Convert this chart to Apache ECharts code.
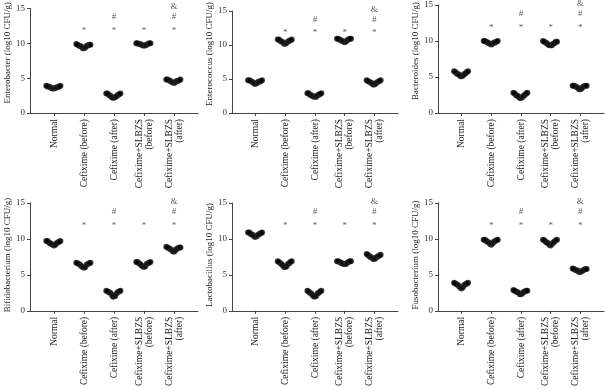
<!DOCTYPE html>
<html>
<head>
<meta charset="utf-8">
<script src="https://cdn.jsdelivr.net/npm/echarts@6/dist/echarts.min.js"></script>
<style>
  html, body { margin: 0; padding: 0; background: #fff; }
  #main { width: 605px; height: 389px; }
</style>
</head>
<body>
<div id="main"></div>
<script>
// group labels (x axis)
var groups = ['Normal', 'Cefixime (before)', 'Cefixime (after)', 'Cefixime+SLBZS\n(before)', 'Cefixime+SLBZS\n(after)'];
var yTicks = [0, 5, 10, 15];

// log10 CFU/g per animal, one list per group
var enterobacter = [
    [3.9, 3.8, 3.7, 3.6, 3.8, 3.5, 3.7, 3.9, 3.6, 3.5, 3.8, 3.7],
    [9.9, 9.7, 9.5, 9.8, 9.3, 9.6, 9.8, 9.4, 9.7, 9.3, 9.8, 9.6],
    [2.8, 2.6, 2.3, 2.8, 2.2, 2.5, 2.7, 2.2, 2.4, 2.8, 2.6, 2.3],
    [10.0, 9.9, 9.8, 10.0, 9.7, 9.9, 10.0, 9.7, 9.9, 10.0, 9.7, 9.8],
    [4.8, 4.6, 4.5, 4.8, 4.4, 4.6, 4.8, 4.4, 4.7, 4.7, 4.3, 4.6]
];
var enterococcus = [
    [4.8, 4.7, 4.5, 4.8, 4.3, 4.6, 4.8, 4.4, 4.6, 4.7, 4.3, 4.6],
    [10.8, 10.6, 10.4, 10.8, 10.2, 10.5, 10.8, 10.3, 10.6, 10.7, 10.2, 10.5],
    [2.9, 2.7, 2.5, 2.9, 2.4, 2.6, 2.9, 2.4, 2.7, 2.8, 2.4, 2.6],
    [10.9, 10.8, 10.6, 10.9, 10.5, 10.7, 10.9, 10.5, 10.8, 10.9, 10.4, 10.7],
    [4.8, 4.6, 4.4, 4.7, 4.2, 4.5, 4.8, 4.3, 4.6, 4.7, 4.2, 4.5]
];
var bacteroides = [
    [5.8, 5.5, 5.3, 5.7, 5.1, 5.4, 5.8, 5.2, 5.5, 5.7, 5.1, 5.4],
    [10.0, 9.8, 9.7, 10.0, 9.6, 9.8, 10.0, 9.6, 9.9, 9.9, 9.5, 9.8],
    [2.8, 2.5, 2.3, 2.7, 2.1, 2.4, 2.8, 2.2, 2.5, 2.7, 2.1, 2.4],
    [9.9, 9.7, 9.5, 9.9, 9.4, 9.7, 10.0, 9.4, 9.8, 9.9, 9.4, 9.6],
    [3.8, 3.7, 3.5, 3.8, 3.3, 3.6, 3.8, 3.4, 3.7, 3.8, 3.3, 3.6]
];
var bifidobacterium = [
    [9.7, 9.5, 9.3, 9.7, 9.2, 9.4, 9.7, 9.2, 9.5, 9.6, 9.1, 9.4],
    [6.7, 6.5, 6.2, 6.6, 6.1, 6.4, 6.7, 6.1, 6.5, 6.6, 6.0, 6.4],
    [2.8, 2.6, 2.3, 2.7, 2.0, 2.5, 2.8, 2.1, 2.6, 2.7, 2.0, 2.4],
    [6.8, 6.6, 6.3, 6.8, 6.2, 6.5, 6.8, 6.2, 6.6, 6.7, 6.1, 6.5],
    [8.8, 8.7, 8.5, 8.8, 8.3, 8.6, 8.9, 8.4, 8.7, 8.8, 8.2, 8.6]
];
var lactobacillus = [
    [10.9, 10.7, 10.5, 10.9, 10.3, 10.6, 10.9, 10.4, 10.7, 10.8, 10.3, 10.6],
    [6.9, 6.6, 6.3, 6.8, 6.1, 6.5, 6.9, 6.2, 6.6, 6.8, 6.1, 6.5],
    [2.8, 2.5, 2.2, 2.7, 2.0, 2.4, 2.8, 2.1, 2.5, 2.7, 2.0, 2.4],
    [6.9, 6.8, 6.6, 6.9, 6.5, 6.7, 6.9, 6.5, 6.8, 6.9, 6.5, 6.7],
    [7.8, 7.6, 7.4, 7.8, 7.2, 7.5, 7.9, 7.3, 7.6, 7.7, 7.2, 7.5]
];
var fusobacterium = [
    [3.9, 3.7, 3.4, 3.8, 3.2, 3.6, 3.9, 3.3, 3.7, 3.8, 3.1, 3.6],
    [9.9, 9.7, 9.5, 9.9, 9.3, 9.6, 9.9, 9.4, 9.7, 9.8, 9.2, 9.6],
    [2.8, 2.7, 2.5, 2.8, 2.3, 2.6, 2.9, 2.4, 2.7, 2.8, 2.3, 2.6],
    [9.9, 9.6, 9.4, 9.8, 9.2, 9.5, 9.9, 9.3, 9.6, 9.8, 9.1, 9.5],
    [5.8, 5.7, 5.6, 5.8, 5.4, 5.6, 5.9, 5.5, 5.7, 5.8, 5.4, 5.6]
];

// significance marks: group indexes that carry each symbol
var starGroups = [1, 2, 3, 4];
var hashGroups = [2, 4];
var ampGroups = [4];

var panels = [
    { name: 'Enterobacter (log10 CFU/g)', data: enterobacter },
    { name: 'Enterococcus (log10 CFU/g)', data: enterococcus },
    { name: 'Bacteroides (log10 CFU/g)', data: bacteroides },
    { name: 'Bifidobacterium (log10 CFU/g)', data: bifidobacterium },
    { name: 'Lactobacillus (log10 CFU/g)', data: lactobacillus },
    { name: 'Fusobacterium (log10 CFU/g)', data: fusobacterium }
];

var FONT = '"Liberation Serif", "DejaVu Serif", serif';
var lefts = [30, 232, 438];
var widths = [168, 166, 166];
var tops = [4, 203];
var H = 109;

// spread points sideways: lowest value in the middle, higher ones outward
function swarm(values, gi) {
    var idx = values.map(function (v, i) { return i; });
    idx.sort(function (a, b) { return values[a] - values[b]; });
    var pts = [];
    idx.forEach(function (i, r) {
        var k = Math.ceil(r / 2);
        var s = r % 2 ? -1 : 1;
        pts.push([gi + 1 + s * k * 0.043, values[i]]);
    });
    return pts;
}

function marks(list, y) {
    return list.map(function (g) { return [g + 1, y]; });
}

var grid = [], xAxis = [], yAxis = [], series = [];

panels.forEach(function (p, n) {
    var col = n % 3, row = Math.floor(n / 3);
    grid.push({ left: lefts[col], top: tops[row], width: widths[col], height: H });
    xAxis.push({
        gridIndex: n,
        type: 'value',
        min: 0.2,
        max: 5.8,
        splitLine: { show: false },
        axisLine: { onZero: false, lineStyle: { color: '#444', width: 1 } },
        axisTick: { customValues: [1, 2, 3, 4, 5], length: 3, lineStyle: { color: '#444' } },
        axisLabel: {
            customValues: [1, 2, 3, 4, 5],
            rotate: 90,
            margin: 6,
            fontFamily: FONT,
            fontSize: 9.5,
            color: '#222',
            lineHeight: 10,
            formatter: function (v) { return groups[Math.round(v) - 1]; }
        }
    });
    yAxis.push({
        gridIndex: n,
        type: 'value',
        min: 0,
        max: 15,
        interval: 5,
        name: p.name,
        nameLocation: 'middle',
        nameGap: 17,
        nameTextStyle: {
            fontFamily: FONT, fontSize: 9, color: '#222',
            padding: row === 0 ? [0, 0, 0, 16] : [0, 0, 0, 4]
        },
        splitLine: { show: false },
        axisLine: { show: true, lineStyle: { color: '#444', width: 1 } },
        axisTick: { show: true, length: 3, lineStyle: { color: '#444' } },
        axisLabel: { margin: 5, fontFamily: FONT, fontSize: 9, color: '#333' }
    });
    p.data.forEach(function (vals, gi) {
        series.push({
            type: 'scatter',
            xAxisIndex: n,
            yAxisIndex: n,
            symbolSize: 6,
            itemStyle: { color: '#000', borderColor: '#fff', borderWidth: 0.15 },
            data: swarm(vals, gi),
            silent: true
        });
    });
    [[starGroups, 11.8, '*'], [hashGroups, 13.8, '#'], [ampGroups, 15.2, '&']].forEach(function (m) {
        series.push({
            type: 'scatter',
            xAxisIndex: n,
            yAxisIndex: n,
            clip: false,
            symbolSize: 1,
            itemStyle: { color: 'rgba(0,0,0,0)' },
            label: {
                show: true,
                position: 'inside',
                formatter: m[2],
                fontFamily: FONT,
                fontSize: 9,
                color: '#333'
            },
            data: marks(m[0], m[1]),
            silent: true
        });
    });
});

var chart = echarts.init(document.getElementById('main'));
chart.setOption({
    animation: false,
    grid: grid,
    xAxis: xAxis,
    yAxis: yAxis,
    series: series
});
</script>
</body>
</html>
